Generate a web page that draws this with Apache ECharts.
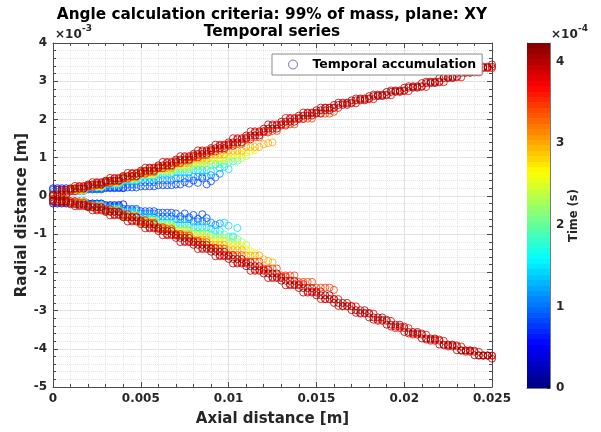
<!DOCTYPE html>
<html>
<head>
<meta charset="utf-8">
<script src="https://cdn.jsdelivr.net/npm/echarts@6/dist/echarts.min.js"></script>
<style>
  html, body { margin: 0; padding: 0; background: #ffffff; }
  #chart { width: 601px; height: 432px; }
</style>
</head>
<body>
<div id="chart"></div>
<script>
// Axial sample positions [m]
const xGrid = [
  0, 0.00025, 0.0005, 0.00075, 0.001, 0.00125, 0.0015, 0.00175,
  0.002, 0.00225, 0.0025, 0.00275, 0.003, 0.00325, 0.0035, 0.00375,
  0.004, 0.00425, 0.0045, 0.00475, 0.005, 0.00525, 0.0055, 0.00575,
  0.006, 0.00625, 0.0065, 0.00675, 0.007, 0.00725, 0.0075, 0.00775,
  0.008, 0.00825, 0.0085, 0.00875, 0.009, 0.00925, 0.0095, 0.00975,
  0.010, 0.01025, 0.0105, 0.01075, 0.011, 0.01125, 0.0115, 0.01175,
  0.012, 0.01225, 0.0125, 0.01275, 0.013, 0.01325, 0.0135, 0.01375,
  0.014, 0.01425, 0.0145, 0.01475, 0.015, 0.01525, 0.0155, 0.01575,
  0.016, 0.01625, 0.0165, 0.01675, 0.017, 0.01725, 0.0175, 0.01775,
  0.018, 0.01825, 0.0185, 0.01875, 0.019, 0.01925, 0.0195, 0.01975,
  0.020, 0.02025, 0.0205, 0.02075, 0.021, 0.02125, 0.0215, 0.02175,
  0.022, 0.02225, 0.0225, 0.02275, 0.023, 0.02325, 0.0235, 0.02375,
  0.024, 0.02425, 0.0245, 0.02475, 0.025
];

// Snapshot times [s]
const times = [0.4e-4, 0.8e-4, 1.05e-4, 1.45e-4, 1.9e-4, 2.3e-4, 2.7e-4, 3.0e-4, 3.45e-4, 3.7e-4, 3.95e-4, 4.15e-4];

// Spray boundary (99 % of mass) per snapshot, in units of 1e-3 m.
// Each list starts at xGrid[0] and runs to the snapshot's penetration length.
const upper1 = [0.20,0.20,0.20,0.20, 0.18,0.18,0.18,0.18, 0.20,0.20,0.20,0.20, 0.22,0.22,0.22,0.22, 0.20];
const lower1 = [-0.20,-0.20,-0.20,-0.20, -0.18,-0.18,-0.18,-0.18, -0.20,-0.20,-0.20,-0.20, -0.24,-0.24,-0.24,-0.24, -0.22];

const upper2 = [0.16,0.16,0.16,0.16, 0.14,0.14,0.14,0.14, 0.17,0.17,0.17,0.17, 0.20,0.20,0.20,0.20,
  0.22,0.22,0.22,0.22, 0.25,0.25,0.25,0.25, 0.28,0.28,0.28,0.28, 0.30,0.30,0.36,0.32,
  0.40,0.34,0.46,0.30, 0.38];
const lower2 = [-0.16,-0.16,-0.16,-0.16, -0.14,-0.14,-0.14,-0.14, -0.20,-0.20,-0.20,-0.20, -0.27,-0.27,-0.27,-0.27,
  -0.34,-0.34,-0.34,-0.34, -0.40,-0.40,-0.40,-0.40, -0.44,-0.44,-0.44,-0.44, -0.46,-0.54,-0.46,-0.56,
  -0.50,-0.60,-0.48,-0.58];

const upper3 = [0.10,0.10,0.10,0.10, 0.13,0.13,0.13,0.13, 0.18,0.18,0.18,0.18, 0.24,0.24,0.24,0.24,
  0.30,0.30,0.30,0.30, 0.36,0.36,0.36,0.36, 0.41,0.41,0.41,0.41, 0.46,0.46,0.46,0.46,
  0.50,0.50,0.50,0.50, 0.54,0.48,0.58];
const lower3 = [-0.12,-0.12,-0.12,-0.12, -0.15,-0.15,-0.15,-0.15, -0.22,-0.22,-0.22,-0.22, -0.30,-0.30,-0.30,-0.30,
  -0.38,-0.38,-0.38,-0.38, -0.46,-0.46,-0.46,-0.46, -0.54,-0.54,-0.54,-0.54, -0.61,-0.61,-0.61,-0.61,
  -0.67,-0.67,-0.67,-0.67, -0.70,-0.76,-0.72];

const upper4 = [0.02,0.02,0.02,0.02, 0.13,0.13,0.13,0.13, 0.22,0.22,0.22,0.22, 0.30,0.30,0.30,0.30,
  0.39,0.39,0.39,0.39, 0.47,0.47,0.47,0.47, 0.55,0.55,0.55,0.55, 0.62,0.62,0.62,0.62,
  0.68,0.68,0.68,0.68, 0.64,0.82,0.72,0.76, 0.70];
const lower4 = [-0.10,-0.10,-0.10,-0.10, -0.15,-0.15,-0.15,-0.15, -0.24,-0.24,-0.24,-0.24, -0.33,-0.33,-0.33,-0.33,
  -0.44,-0.44,-0.44,-0.44, -0.55,-0.55,-0.55,-0.55, -0.66,-0.66,-0.66,-0.66, -0.75,-0.75,-0.75,-0.75,
  -0.82,-0.82,-0.82,-0.82, -0.86,-0.90,-0.92,-0.70, -0.78,-1.06,-0.84];

const upper5 = [0.02,0.02,0.02,0.02, 0.14,0.14,0.14,0.14, 0.24,0.24,0.24,0.24, 0.33,0.33,0.33,0.33,
  0.43,0.43,0.43,0.43, 0.53,0.53,0.53,0.53, 0.62,0.62,0.62,0.62, 0.70,0.70,0.70,0.70,
  0.77,0.77,0.77,0.77, 0.83,0.83,0.83,0.83, 0.88,0.90,0.92];
const lower5 = [-0.10,-0.10,-0.10,-0.10, -0.16,-0.16,-0.16,-0.16, -0.26,-0.26,-0.26,-0.26, -0.37,-0.37,-0.37,-0.37,
  -0.49,-0.49,-0.49,-0.49, -0.61,-0.61,-0.61,-0.61, -0.73,-0.73,-0.73,-0.73, -0.84,-0.84,-0.84,-0.84,
  -0.93,-0.93,-0.93,-0.93, -1.01,-1.01,-1.01,-1.01, -1.07,-1.10,-1.13];

const upper6 = [0.02,0.02,0.02,0.02, 0.15,0.15,0.15,0.15, 0.25,0.25,0.25,0.25, 0.35,0.35,0.35,0.35,
  0.46,0.46,0.46,0.46, 0.56,0.56,0.56,0.56, 0.66,0.66,0.66,0.66, 0.75,0.75,0.75,0.75,
  0.84,0.84,0.84,0.84, 0.92,0.92,0.92,0.92, 0.99,0.99,0.99,0.99, 1.04];
const lower6 = [-0.10,-0.10,-0.10,-0.10, -0.16,-0.16,-0.16,-0.16, -0.27,-0.27,-0.27,-0.27, -0.39,-0.39,-0.39,-0.39,
  -0.52,-0.52,-0.52,-0.52, -0.65,-0.65,-0.65,-0.65, -0.78,-0.78,-0.78,-0.78, -0.90,-0.90,-0.90,-0.90,
  -1.01,-1.01,-1.01,-1.01, -1.11,-1.11,-1.11,-1.11, -1.21,-1.21,-1.21,-1.21, -1.28];

const upper7 = [0.02,0.02,0.02,0.02, 0.16,0.16,0.16,0.16, 0.26,0.26,0.26,0.26, 0.36,0.36,0.36,0.36,
  0.48,0.48,0.48,0.48, 0.59,0.59,0.59,0.59, 0.70,0.70,0.70,0.70, 0.80,0.80,0.80,0.80,
  0.90,0.90,0.90,0.90, 0.99,0.99,0.99,0.99, 1.08,1.08,1.08,1.08, 1.14,1.17,1.20];
const lower7 = [-0.10,-0.10,-0.10,-0.10, -0.16,-0.16,-0.16,-0.16, -0.28,-0.28,-0.28,-0.28, -0.40,-0.40,-0.40,-0.40,
  -0.54,-0.54,-0.54,-0.54, -0.68,-0.68,-0.68,-0.68, -0.82,-0.82,-0.82,-0.82, -0.95,-0.95,-0.95,-0.95,
  -1.07,-1.07,-1.07,-1.07, -1.19,-1.19,-1.19,-1.19, -1.31,-1.31,-1.31,-1.31, -1.40,-1.45,-1.50];

const upper8 = [0.02,0.02,0.02,0.02, 0.16,0.16,0.16,0.16, 0.27,0.27,0.27,0.27, 0.37,0.37,0.37,0.37,
  0.49,0.49,0.49,0.49, 0.61,0.61,0.61,0.61, 0.73,0.73,0.73,0.73, 0.85,0.85,0.85,0.85,
  0.97,0.97,0.97,0.97, 1.08,1.08,1.08,1.08, 1.18,1.18,1.18,1.18, 1.28,1.28,1.28,1.28,
  1.35,1.38,1.40];
const lower8 = [-0.10,-0.10,-0.10,-0.10, -0.16,-0.16,-0.16,-0.16, -0.28,-0.28,-0.28,-0.28, -0.40,-0.40,-0.40,-0.40,
  -0.55,-0.55,-0.55,-0.55, -0.70,-0.70,-0.70,-0.70, -0.85,-0.85,-0.85,-0.85, -1.00,-1.00,-1.00,-1.00,
  -1.14,-1.14,-1.14,-1.14, -1.28,-1.28,-1.28,-1.28, -1.42,-1.42,-1.42,-1.42, -1.56,-1.56,-1.56,-1.56,
  -1.66,-1.70,-1.74];

const upper9 = [0.02,0.02,0.02,0.02, 0.18,0.18,0.18,0.18, 0.28,0.28,0.28,0.28, 0.38,0.38,0.38,0.38,
  0.50,0.50,0.50,0.50, 0.63,0.63,0.63,0.63, 0.77,0.77,0.77,0.77, 0.92,0.92,0.92,0.92,
  1.06,1.06,1.06,1.06, 1.21,1.21,1.21,1.21, 1.36,1.36,1.36,1.36, 1.53,1.53,1.53,1.53,
  1.70,1.70,1.70,1.70, 1.87,1.87,1.87,1.87, 2.02,2.02,2.02,2.02, 2.15,2.15,2.15,2.15, 2.20];
const lower9 = [-0.10,-0.10,-0.10,-0.10, -0.18,-0.18,-0.18,-0.18, -0.28,-0.28,-0.28,-0.28, -0.40,-0.40,-0.40,-0.40,
  -0.54,-0.54,-0.54,-0.54, -0.70,-0.70,-0.70,-0.70, -0.87,-0.87,-0.87,-0.87, -1.04,-1.04,-1.04,-1.04,
  -1.21,-1.21,-1.21,-1.21, -1.38,-1.38,-1.38,-1.38, -1.55,-1.55,-1.55,-1.55, -1.72,-1.72,-1.72,-1.72,
  -1.90,-1.90,-1.90,-1.90, -2.08,-2.08,-2.08,-2.08, -2.25,-2.25,-2.25,-2.25, -2.40,-2.40,-2.40,-2.40, -2.46];

const upper10 = [0.00,0.00, 0.12,0.12,0.12,0.12, 0.24,0.24,0.24,0.24, 0.34,0.34,0.34,0.34, 0.45,0.45,0.45,0.45,
  0.58,0.58,0.58,0.58, 0.72,0.72,0.72,0.72, 0.86,0.86,0.86,0.86, 1.01,1.01,1.01,1.01,
  1.16,1.16,1.16,1.16, 1.31,1.31,1.31,1.31, 1.48,1.48,1.48,1.48, 1.66,1.66,1.66,1.66,
  1.84,1.84,1.84,1.84, 2.01,2.01,2.01,2.01, 2.16,2.16,2.16,2.16, 2.30,2.30,2.30,2.30,
  2.42,2.42,2.42,2.42, 2.53,2.53,2.53,2.53, 2.63,2.63,2.63,2.63, 2.74,2.74,2.74,2.74,
  2.85,2.85,2.85,2.85, 2.97,2.97,2.97,2.97, 3.10,3.10,3.10,3.10, 3.23,3.23,3.23,3.23, 3.34,3.34,3.34];
const lower10 = [-0.08,-0.08, -0.14,-0.14,-0.14,-0.14, -0.24,-0.24,-0.24,-0.24, -0.35,-0.35,-0.35,-0.35, -0.48,-0.48,-0.48,-0.48,
  -0.64,-0.64,-0.64,-0.64, -0.82,-0.82,-0.82,-0.82, -1.00,-1.00,-1.00,-1.00, -1.18,-1.18,-1.18,-1.18,
  -1.36,-1.36,-1.36,-1.36, -1.55,-1.55,-1.55,-1.55, -1.74,-1.74,-1.74,-1.74, -1.93,-1.93,-1.93,-1.93,
  -2.12,-2.12,-2.12,-2.12, -2.31,-2.31,-2.31,-2.31, -2.50,-2.50,-2.50,-2.50, -2.70,-2.70,-2.70,-2.70,
  -2.89,-2.89,-2.89,-2.89, -3.08,-3.08,-3.08,-3.08, -3.27,-3.27,-3.27,-3.27, -3.46,-3.46,-3.46,-3.46,
  -3.63,-3.63,-3.63,-3.63, -3.79,-3.79,-3.79,-3.79, -3.94,-3.94,-3.94,-3.94, -4.08,-4.08,-4.08,-4.08, -4.18,-4.18,-4.18];

const upper11 = [0.02, 0.16,0.16,0.16,0.16, 0.26,0.26,0.26,0.26, 0.36,0.36,0.36,0.36, 0.47,0.47,0.47,0.47,
  0.60,0.60,0.60,0.60, 0.74,0.74,0.74,0.74, 0.89,0.89,0.89,0.89, 1.04,1.04,1.04,1.04,
  1.19,1.19,1.19,1.19, 1.34,1.34,1.34,1.34, 1.51,1.51,1.51,1.51, 1.69,1.69,1.69,1.69,
  1.87,1.87,1.87,1.87, 2.04,2.04,2.04,2.04, 2.18,2.18,2.18,2.18, 2.31,2.31,2.31,2.31,
  2.44,2.44,2.44,2.44, 2.55,2.55,2.55,2.55, 2.65,2.65,2.65,2.65, 2.76,2.76,2.76,2.76,
  2.87,2.87,2.87,2.87, 2.99,2.99,2.99,2.99, 3.12,3.12,3.12,3.12, 3.26,3.26,3.26,3.26, 3.38,3.38,3.38,3.38];
const lower11 = [-0.12, -0.18,-0.18,-0.18,-0.18, -0.27,-0.27,-0.27,-0.27, -0.38,-0.38,-0.38,-0.38, -0.51,-0.51,-0.51,-0.51,
  -0.67,-0.67,-0.67,-0.67, -0.85,-0.85,-0.85,-0.85, -1.03,-1.03,-1.03,-1.03, -1.21,-1.21,-1.21,-1.21,
  -1.39,-1.39,-1.39,-1.39, -1.58,-1.58,-1.58,-1.58, -1.77,-1.77,-1.77,-1.77, -1.96,-1.96,-1.96,-1.96,
  -2.15,-2.15,-2.15,-2.15, -2.34,-2.34,-2.34,-2.34, -2.53,-2.53,-2.53,-2.53, -2.70,-2.70,-2.70,-2.70,
  -2.88,-2.88,-2.88,-2.88, -3.06,-3.06,-3.06,-3.06, -3.24,-3.24,-3.24,-3.24, -3.42,-3.42,-3.42,-3.42,
  -3.60,-3.60,-3.60,-3.60, -3.76,-3.76,-3.76,-3.76, -3.91,-3.91,-3.91,-3.91, -4.05,-4.05,-4.05,-4.05, -4.18,-4.18,-4.18,-4.18];

const upper12 = [0.04,0.04,0.04,0.04, 0.20,0.20,0.20,0.20, 0.30,0.30,0.30,0.30, 0.40,0.40,0.40,0.40,
  0.52,0.52,0.52,0.52, 0.66,0.66,0.66,0.66, 0.80,0.80,0.80,0.80, 0.95,0.95,0.95,0.95,
  1.10,1.10,1.10,1.10, 1.25,1.25,1.25,1.25, 1.40,1.40,1.40,1.40, 1.58,1.58,1.58,1.58,
  1.76,1.76,1.76,1.76, 1.94,1.94,1.94,1.94, 2.10,2.10,2.10,2.10, 2.24,2.24,2.24,2.24,
  2.38,2.38,2.38,2.38, 2.50,2.50,2.50,2.50, 2.61,2.61,2.61,2.61, 2.72,2.72,2.72,2.72,
  2.83,2.83,2.83,2.83, 2.95,2.95,2.95,2.95, 3.08,3.08,3.08,3.08, 3.22,3.22,3.22,3.22,
  3.36,3.36,3.36,3.36, 3.44];
const lower12 = [-0.14,-0.14,-0.14,-0.14, -0.22,-0.22,-0.22,-0.22, -0.30,-0.30,-0.30,-0.30, -0.42,-0.42,-0.42,-0.42,
  -0.56,-0.56,-0.56,-0.56, -0.74,-0.74,-0.74,-0.74, -0.92,-0.92,-0.92,-0.92, -1.10,-1.10,-1.10,-1.10,
  -1.28,-1.28,-1.28,-1.28, -1.46,-1.46,-1.46,-1.46, -1.65,-1.65,-1.65,-1.65, -1.84,-1.84,-1.84,-1.84,
  -2.03,-2.03,-2.03,-2.03, -2.22,-2.22,-2.22,-2.22, -2.41,-2.41,-2.41,-2.41, -2.60,-2.60,-2.60,-2.60,
  -2.80,-2.80,-2.80,-2.80, -2.99,-2.99,-2.99,-2.99, -3.18,-3.18,-3.18,-3.18, -3.37,-3.37,-3.37,-3.37,
  -3.56,-3.56,-3.56,-3.56, -3.73,-3.73,-3.73,-3.73, -3.89,-3.89,-3.89,-3.89, -4.04,-4.04,-4.04,-4.04,
  -4.17,-4.17,-4.17,-4.17, -4.26];

// Axis ticks
const xTicks = [0, 0.005, 0.01, 0.015, 0.02, 0.025];
const yTicks = [-5, -4, -3, -2, -1, 0, 1, 2, 3, 4];          // x1e-3 m
const timeTicks = [0, 1e-4, 2e-4, 3e-4, 4e-4];                // s
const timeMax = 4.23e-4;                                       // colour scale top [s]

const uppers = [upper1, upper2, upper3, upper4, upper5, upper6, upper7, upper8, upper9, upper10, upper11, upper12];
const lowers = [lower1, lower2, lower3, lower4, lower5, lower6, lower7, lower8, lower9, lower10, lower11, lower12];

// MATLAB-style jet colour map
function jet(v) {
  v = Math.max(0, Math.min(1, v));
  const c = (u) => Math.round(255 * Math.max(0, Math.min(1, u)));
  const r = c(1.5 - Math.abs(4 * v - 3));
  const g = c(1.5 - Math.abs(4 * v - 2));
  const b = c(1.5 - Math.abs(4 * v - 1));
  return 'rgb(' + r + ',' + g + ',' + b + ')';
}

const FONT = 'DejaVu Sans';
const TXT = '#262626';
const AX = '#4a4a4a';

const scatterSeries = times.map((t, i) => {
  const pts = [];
  uppers[i].forEach((r, j) => pts.push([xGrid[j], r]));
  lowers[i].forEach((r, j) => pts.push([xGrid[j], r]));
  return {
    name: 'Temporal accumulation',
    type: 'scatter',
    xAxisIndex: 0,
    yAxisIndex: 0,
    symbol: 'circle',
    symbolSize: 7,
    silent: true,
    itemStyle: { color: 'rgba(0,0,0,0)', borderColor: jet(t / timeMax), borderWidth: 1 },
    data: pts
  };
});

// 64-step colour bar gradient (bottom -> top)
const stops = [];
for (let k = 0; k < 64; k++) {
  const col = jet((k + 0.5) / 64);
  stops.push({ offset: k / 64, color: col });
  stops.push({ offset: (k + 1) / 64, color: col });
}

const chart = echarts.init(document.getElementById('chart'), null, { renderer: 'canvas' });

const frameAxis = { lineStyle: { color: AX, width: 1 } };

chart.setOption({
  animation: false,
  backgroundColor: '#ffffff',
  textStyle: { fontFamily: FONT },
  grid: [
    { left: 53, right: 109, top: 43, bottom: 43 },
    { left: 527, width: 23, top: 43, bottom: 44 }
  ],
  legend: {
    left: 272, top: 54,
    padding: [4, 6, 4, 16],
    backgroundColor: '#ffffff',
    borderColor: '#8a8a8a', borderWidth: 1,
    itemWidth: 9, itemHeight: 9,
    textStyle: { fontFamily: FONT, fontWeight: 'bold', fontSize: 12.5, color: '#000', padding: [0, 0, 0, 10] },
    data: [{ name: 'Temporal accumulation', icon: 'circle',
      itemStyle: { color: 'rgba(0,0,0,0)', borderColor: '#4b4bc0', borderWidth: 1 } }]
  },
  xAxis: [
    {
      type: 'value', gridIndex: 0, min: xTicks[0], max: xTicks[xTicks.length - 1], interval: 0.005,
      name: 'Axial distance [m]', nameLocation: 'middle', nameGap: 25, nameMoveOverlap: false,
      nameTextStyle: { fontFamily: FONT, fontWeight: 'bold', fontSize: 15, color: TXT },
      axisLine: { show: true, onZero: false, ...frameAxis },
      axisTick: { show: true, inside: true, length: 5, lineStyle: { color: AX } },
      minorTick: { show: true, splitNumber: 5, length: 3, lineStyle: { color: AX } },
      axisLabel: {
        fontFamily: FONT, fontWeight: 'bold', fontSize: 12, color: TXT, margin: 6,
        formatter: (v) => (Math.abs(v) < 1e-12 ? '0' : String(+v.toFixed(3)))
      },
      splitLine: { show: true, lineStyle: { color: '#e2e2e2', width: 1 } },
      minorSplitLine: { show: true, lineStyle: { color: '#e6e6e6', width: 1, type: 'dotted' } }
    },
    {
      type: 'value', gridIndex: 0, position: 'top', min: xTicks[0], max: xTicks[xTicks.length - 1], interval: 0.005,
      axisLine: { show: true, onZero: false, ...frameAxis },
      axisTick: { show: true, inside: true, length: 5, lineStyle: { color: AX } },
      minorTick: { show: true, splitNumber: 5, length: 3, lineStyle: { color: AX } },
      axisLabel: { show: false }, splitLine: { show: false }
    },
    {
      type: 'category', gridIndex: 1, data: ['c'],
      axisLine: { show: true, lineStyle: { color: '#7a7a7a' } },
      axisTick: { show: false }, axisLabel: { show: false }, splitLine: { show: false }
    },
    {
      type: 'category', gridIndex: 1, data: ['c'], position: 'top',
      axisLine: { show: true, lineStyle: { color: '#7a7a7a' } },
      axisTick: { show: false }, axisLabel: { show: false }, splitLine: { show: false }
    }
  ],
  yAxis: [
    {
      type: 'value', gridIndex: 0, min: yTicks[0], max: yTicks[yTicks.length - 1], interval: 1,
      name: 'Radial distance [m]', nameLocation: 'middle', nameGap: 23, nameRotate: 90, nameMoveOverlap: false,
      nameTextStyle: { fontFamily: FONT, fontWeight: 'bold', fontSize: 15, color: TXT },
      axisLine: { show: true, onZero: false, ...frameAxis },
      axisTick: { show: true, inside: true, length: 5, lineStyle: { color: AX } },
      minorTick: { show: true, splitNumber: 5, length: 3, lineStyle: { color: AX } },
      axisLabel: { fontFamily: FONT, fontWeight: 'bold', fontSize: 12, color: TXT, margin: 6 },
      splitLine: { show: true, lineStyle: { color: '#e2e2e2', width: 1 } },
      minorSplitLine: { show: true, lineStyle: { color: '#e6e6e6', width: 1, type: 'dotted' } }
    },
    {
      type: 'value', gridIndex: 0, position: 'right', min: yTicks[0], max: yTicks[yTicks.length - 1], interval: 1,
      axisLine: { show: true, onZero: false, ...frameAxis },
      axisTick: { show: true, inside: true, length: 5, lineStyle: { color: AX } },
      minorTick: { show: true, splitNumber: 5, length: 3, lineStyle: { color: AX } },
      axisLabel: { show: false }, splitLine: { show: false }
    },
    {
      type: 'value', gridIndex: 1, position: 'right', min: timeTicks[0], max: timeMax, interval: 1e-4,
      name: 'Time (s)', nameLocation: 'middle', nameGap: 18, nameRotate: 90, nameMoveOverlap: false,
      nameTextStyle: { fontFamily: FONT, fontWeight: 'bold', fontSize: 11.5, color: TXT },
      axisLine: { show: true, lineStyle: { color: '#7a7a7a' } },
      axisTick: { show: true, inside: true, length: 3, lineStyle: { color: '#333' } },
      axisLabel: {
        fontFamily: FONT, fontWeight: 'bold', fontSize: 12, color: TXT, margin: 6, showMaxLabel: false,
        formatter: (v) => {
          const s = v * 1e4;
          return Math.abs(s - Math.round(s)) < 1e-6 ? String(Math.round(s)) : '';
        }
      },
      splitLine: { show: false }
    },
    {
      type: 'value', gridIndex: 1, position: 'left', min: timeTicks[0], max: timeMax,
      axisLine: { show: true, lineStyle: { color: '#7a7a7a' } },
      axisTick: { show: false }, axisLabel: { show: false }, splitLine: { show: false }
    }
  ],
  graphic: [
    { type: 'text', x: 272, y: 15, style: { text: 'Angle calculation criteria: 99% of mass, plane: XY',
      fontFamily: FONT, fontWeight: 'bold', fontSize: 15.3, fill: '#000', textAlign: 'center', textVerticalAlign: 'middle' } },
    { type: 'text', x: 272, y: 32, style: { text: 'Temporal series',
      fontFamily: FONT, fontWeight: 'bold', fontSize: 15.3, fill: '#000', textAlign: 'center', textVerticalAlign: 'middle' } },
    { type: 'text', x: 55, y: 35, style: { text: '\u00d710', fontFamily: FONT, fontWeight: 'bold', fontSize: 12,
      fill: TXT, textAlign: 'left', textVerticalAlign: 'middle' } },
    { type: 'text', x: 82, y: 29, style: { text: '-3', fontFamily: FONT, fontWeight: 'bold', fontSize: 9,
      fill: TXT, textAlign: 'left', textVerticalAlign: 'middle' } },
    { type: 'text', x: 551, y: 35, style: { text: '\u00d710', fontFamily: FONT, fontWeight: 'bold', fontSize: 12,
      fill: TXT, textAlign: 'left', textVerticalAlign: 'middle' } },
    { type: 'text', x: 578, y: 29, style: { text: '-4', fontFamily: FONT, fontWeight: 'bold', fontSize: 9,
      fill: TXT, textAlign: 'left', textVerticalAlign: 'middle' } }
  ],
  series: scatterSeries.concat([
    {
      name: 'colorbar', type: 'bar', xAxisIndex: 2, yAxisIndex: 2, barWidth: '100%', silent: true,
      itemStyle: { color: { type: 'linear', x: 0, y: 1, x2: 0, y2: 0, colorStops: stops } },
      data: [timeMax]
    }
  ])
});
</script>
</body>
</html>
